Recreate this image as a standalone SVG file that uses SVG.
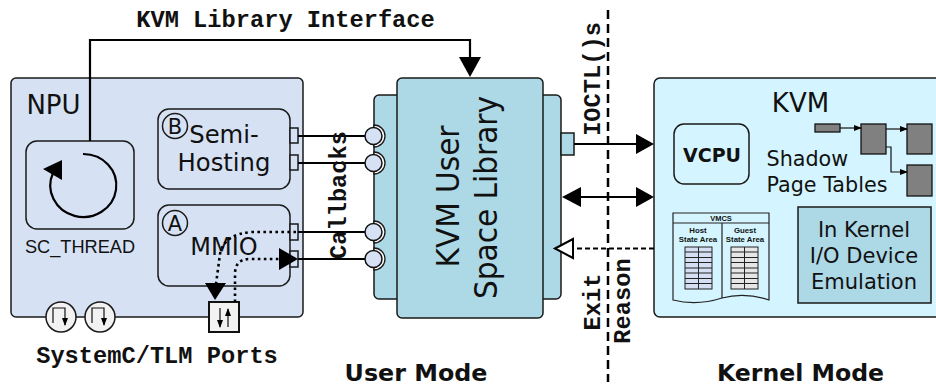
<svg xmlns="http://www.w3.org/2000/svg" width="936" height="385" viewBox="0 0 936 385">
<style>
text{font-family:"DejaVu Sans",sans-serif;fill:#111;text-anchor:middle}
.m{font-family:"Liberation Mono",monospace;font-weight:bold;font-size:23.7px}
.b{font-weight:bold}
.l{font-family:"Liberation Sans",Arial,sans-serif}
.s{stroke:#1a1a1a;stroke-width:1.5}
.w{fill:none;stroke:#000;stroke-width:2.2}
.d{fill:none;stroke:#000;stroke-width:2.600;stroke-dasharray:2.600 3.400}
.g{fill:#808080;stroke:#111;stroke-width:1.3}
.t{fill:none;stroke:#222;stroke-width:1.2}
.n{fill:none;stroke:#111;stroke-width:1.2}
</style>
<defs>
<marker id="sm" markerWidth="8" markerHeight="6" refX="7" refY="3" orient="auto" markerUnits="userSpaceOnUse"><path d="M0 0L8 3L0 6z" fill="#000"/></marker>
</defs>
<g id="npu">
<rect class="s" x="11" y="78" width="292" height="239" rx="5" fill="#d6e2f4"/>
<text x="53.500" y="114" font-size="26">NPU</text>
</g>
<g id="sc-thread">
<rect class="s" x="26" y="141" width="108" height="88" rx="11" fill="#d6e2f4"/>
<path d="M83 154A33 31.500 0 1 1 53 173" fill="none" stroke="#000" stroke-width="2.200"/>
<path d="M43 169L62 160V180z" fill="#000"/>
<text class="l" x="80" y="253" font-size="18.200">SC_THREAD</text>
</g>
<g id="semi-hosting">
<rect class="s" x="158" y="109" width="132" height="80" rx="11" fill="#d6e2f4"/>
<circle class="s" cx="175" cy="126" r="12.500" fill="none"/>
<text x="175" y="134" font-size="21">B</text>
<text x="224" y="143" font-size="24.300">Semi-</text>
<text x="224" y="171" font-size="24.300">Hosting</text>
<rect class="s" x="290" y="128" width="8" height="15" fill="#d6e2f4"/>
<rect class="s" x="290" y="155" width="8" height="15" fill="#d6e2f4"/>
</g>
<g id="mmio">
<rect class="s" x="158" y="205" width="132" height="81" rx="11" fill="#d6e2f4"/>
<circle class="s" cx="175" cy="223" r="12.500" fill="none"/>
<text x="175" y="231" font-size="21">A</text>
<text x="224" y="255" font-size="24">MMIO</text>
<rect class="s" x="290" y="224" width="8" height="16" fill="#d6e2f4"/>
<rect class="s" x="290" y="251" width="8" height="16" fill="#d6e2f4"/>
</g>
<g id="tlm-ports">
<circle class="s" cx="61" cy="317" r="15" fill="#f2f2f2"/>
<circle class="s" cx="100" cy="317" r="15" fill="#f2f2f2"/>
<path class="n" d="M53 323V308H65V325" marker-end="url(#sm)"/>
<path class="n" d="M92 323V308H104V325" marker-end="url(#sm)"/>
<rect x="209" y="302" width="30" height="30" fill="#f2f2f2" stroke="#111" stroke-width="2"/>
<path class="n" d="M220 308V327" marker-end="url(#sm)"/>
<path class="n" d="M228 327V309" marker-end="url(#sm)"/>
</g>
<g id="kvm-user-space">
<rect class="s" x="374" y="95" width="187" height="204" rx="5" fill="#add8e6"/>
<rect x="561" y="133" width="13" height="22" class="s" fill="#add8e6"/>
<g fill="#fff" stroke="#1a1a1a" stroke-width="1.300">
<path d="M374 125A11 11 0 0 1 374 147z"/>
<path d="M374 152A11 11 0 0 1 374 174z"/>
<path d="M374 221A11 11 0 0 1 374 243z"/>
<path d="M374 248A11 11 0 0 1 374 270z"/>
</g>
<rect class="s" x="397" y="78" width="146" height="240" rx="5" fill="#add8e6"/>
<text transform="translate(459 196.500) rotate(-90) scale(.94 1)" font-size="31.500">KVM User</text>
<text transform="translate(497 197.500) rotate(-90) scale(.94 1)" font-size="31.500">Space Library</text>
</g>
<g id="kvm">
<rect class="s" x="654" y="78" width="290" height="239" rx="6" fill="#d4f5ff"/>
<text x="800.500" y="112" font-size="26">KVM</text>
<g id="vcpu"><rect class="s" x="674" y="124" width="75" height="60" rx="10" fill="#d4f5ff"/>
<text class="b" x="712" y="162" font-size="19">VCPU</text></g>
<g id="shadow-page-tables">
<rect class="g" x="815" y="124" width="25" height="8"/>
<rect class="g" x="861" y="124" width="25" height="30"/>
<rect class="g" x="907" y="124" width="25" height="30"/>
<rect class="g" x="907" y="165" width="25" height="31"/>
<path class="n" d="M840 128H861" marker-end="url(#sm)"/>
<path class="n" d="M886 129H907" marker-end="url(#sm)"/>
<path class="n" d="M886 147H891V172H907" marker-end="url(#sm)"/>
<text x="766.500" y="166" font-size="20.700" style="text-anchor:start">Shadow</text>
<text x="766.500" y="192" font-size="20.700" style="text-anchor:start">Page Tables</text>
</g>
<g id="vmcs">
<path d="M673 213H769V300Q745 292 722 298Q697 306 673 300z" fill="#d4f5ff" stroke="#222" stroke-width="1.200"/>
<path class="t" d="M673 223H769M722 223V298"/>
<text class="b l" x="721" y="221" font-size="7.500">VMCS</text>
<text class="b l" x="698" y="233" font-size="7.800">Host</text>
<text class="b l" x="698" y="242" font-size="7.800">State Area</text>
<text class="b l" x="745" y="233" font-size="7.800">Guest</text>
<text class="b l" x="745" y="242" font-size="7.800">State Area</text>
<rect x="685" y="247" width="27" height="42" fill="#d6def4" stroke="#222" stroke-width="1"/>
<rect x="731" y="247" width="27" height="42" fill="#e6e6e6" stroke="#222" stroke-width="1"/>
<path d="M698.500 247V289M744.500 247V289M685 252H712M685 257.500H712M685 262.500H712M685 268H712M685 273H712M685 278.500H712M685 283.500H712M731 252H758M731 257.500H758M731 262.500H758M731 268H758M731 273H758M731 278.500H758M731 283.500H758" stroke="#222" stroke-width="1" fill="none"/>
</g>
<g id="in-kernel-io">
<rect class="s" x="798" y="207" width="133" height="96" fill="#add8e6"/>
<text x="864" y="237" font-size="21">In Kernel</text>
<text x="864" y="263" font-size="21">I/O Device</text>
<text x="864" y="289" font-size="21">Emulation</text>
</g>
</g>
<g id="connectors">
<path class="w" d="M90 141V40H470V60"/>
<path d="M470 77L459 57H481z" fill="#000"/>
<path class="w" d="M298 136H366M298 163H366M298 232H366M298 259H366"/>
<g fill="#d6e2f4" stroke="#111" stroke-width="1.500"><circle cx="373.500" cy="136" r="8.500"/><circle cx="373.500" cy="163" r="8.500"/><circle cx="373.500" cy="232" r="8.500"/><circle cx="373.500" cy="259" r="8.500"/></g>
<path class="d" d="M296 232H252Q224 234 220 254L216 284"/>
<path d="M215 300L205 283H226z" fill="#000"/>
<path class="d" d="M235 302V274Q235 259 250 259H280"/>
<path d="M298 259L279 248V270z" fill="#000"/>
<path class="w" d="M574 144H638"/>
<path d="M654 144L636 134V154z" fill="#000"/>
<path class="w" d="M578 197H638"/>
<path d="M562 197L581 187V207z" fill="#000"/>
<path d="M654 197L636 187V207z" fill="#000"/>
<path d="M654 248.500H573" fill="none" stroke="#000" stroke-width="2" stroke-dasharray="5 3"/>
<path d="M555 248.500L573 239V258z" fill="#fff" stroke="#000" stroke-width="2"/>
<path d="M608 10V382" fill="none" stroke="#000" stroke-width="2.500" stroke-dasharray="9 5"/>
</g>
<g id="labels">
<text class="m" x="285.500" y="27">KVM Library Interface</text>
<text class="m" transform="translate(346 195) rotate(-90)">Callbacks</text>
<text class="m" transform="translate(600 79) rotate(-90)">IOCTL()s</text>
<text class="m" transform="translate(600 302) rotate(-90)">Exit</text>
<text class="m" transform="translate(630 301) rotate(-90)">Reason</text>
<text class="m" x="157" y="363">SystemC/TLM Ports</text>
<text class="b" x="416" y="381" font-size="23.800">User Mode</text>
<text class="b" x="800.500" y="381" font-size="23.600">Kernel Mode</text>
</g>
</svg>
